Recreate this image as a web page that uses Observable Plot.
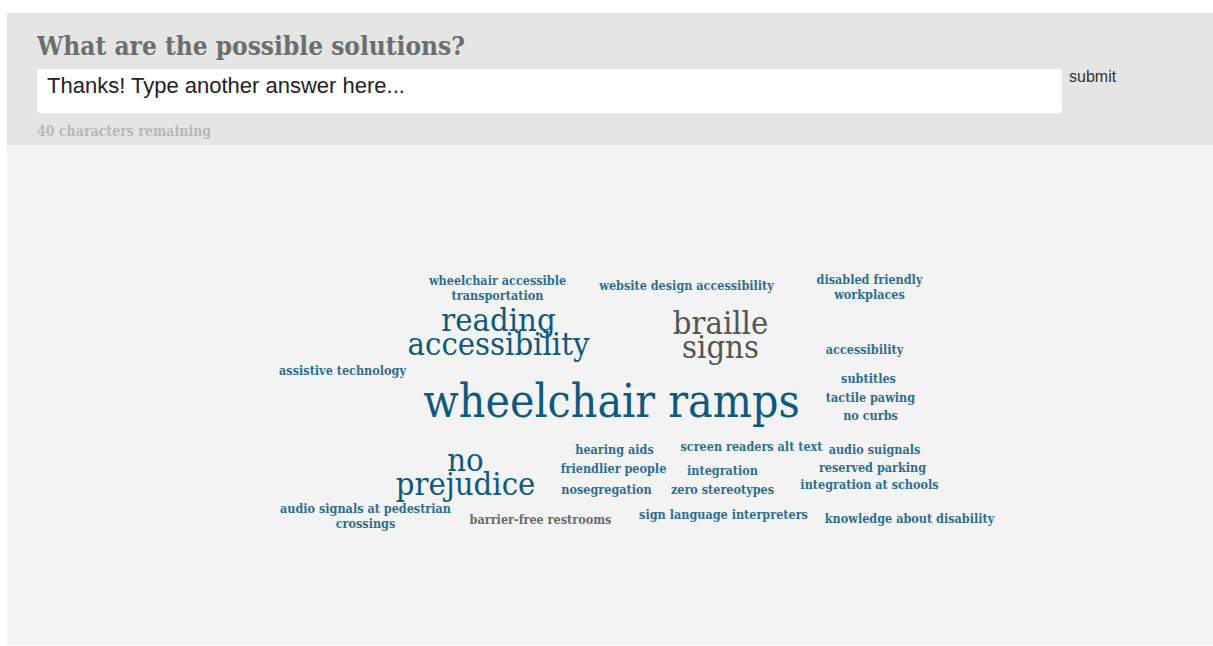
<!DOCTYPE html>
<html>
<head>
<meta charset="utf-8">
<script src="https://cdn.jsdelivr.net/npm/d3@7"></script>
<script src="https://cdn.jsdelivr.net/npm/@observablehq/plot@0.6"></script>
<style>
  html, body { margin: 0; padding: 0; background: #ffffff; width: 1213px; height: 646px; overflow: hidden; }
  .slab { font-family: "DejaVu Serif Condensed", "DejaVu Serif", serif; font-stretch: condensed; }
  #panel { position: absolute; left: 7px; top: 13px; width: 1206px; height: 132px; background: #e5e5e5; }
  #title { position: absolute; left: 30px; top: 18px; font-size: 26px; font-weight: bold; color: #6e6e6e; white-space: nowrap; }
  #input { position: absolute; left: 30px; top: 56px; width: 1025px; height: 44px; background: #ffffff; border-radius: 3px; box-sizing: border-box; padding: 4px 0 0 10px; font-family: "Liberation Sans", Arial, sans-serif; font-size: 22px; color: #222; }
  #submit { position: absolute; left: 1062px; top: 55px; font-family: "Liberation Sans", Arial, sans-serif; font-size: 16px; color: #333; }
  #remain { position: absolute; left: 30px; top: 110px; font-size: 14px; font-weight: bold; color: #b8b8b8; white-space: nowrap; }
  #cloud { position: absolute; left: 7px; top: 145px; width: 1206px; height: 500px; background: #f3f3f3; }
  #cloud svg { display: block; background: #f3f3f3; }
</style>
</head>
<body>
<div id="panel">
  <div id="title" class="slab">What are the possible solutions?</div>
  <div id="input">Thanks! Type another answer here...</div>
  <div id="submit">submit</div>
  <div id="remain" class="slab">40 characters remaining</div>
</div>
<div id="cloud"></div>
<script>
// Answers (word cloud terms), how often each was given, and a tone group
const words = [
  "wheelchair accessible\ntransportation",
  "website design accessibility",
  "disabled friendly\nworkplaces",
  "reading\naccessibility",
  "braille\nsigns",
  "accessibility",
  "assistive technology",
  "subtitles",
  "wheelchair ramps",
  "tactile pawing",
  "no curbs",
  "hearing aids",
  "screen readers alt text",
  "audio suignals",
  "no\nprejudice",
  "friendlier people",
  "integration",
  "reserved parking",
  "integration at schools",
  "nosegregation",
  "zero stereotypes",
  "audio signals at pedestrian\ncrossings",
  "barrier-free restrooms",
  "sign language interpreters",
  "knowledge about disability"
];
const counts = [1,1,1,3,3,1,1,1,5,1,1,1,1,1,3,1,1,1,1,1,1,1,1,1,1];
const tones  = ["blue","blue","blue","blue","gray","blue","blue","blue","blue","blue","blue","blue","blue","blue","blue","blue","blue","blue","blue","blue","blue","blue","gray","blue","blue"];
// Cloud layout (offsets from the cloud centre)
const layoutX = [-140, 49, 232, -139, 83, 227, -295, 231, -26, 233, 233, -23, 114, 237, -172, -24, 85, 235, 232, -31, 85, -272, -97, 86, 272];
const layoutY = [-113, -115, -114, -65, -62, -51, -30, -22, 6, -3, 15, 49, 46, 49, 75, 68, 70, 67, 84, 89, 89, 115, 119, 114, 118];

const table = words.map((w, i) => ({word: w, count: counts[i], tone: tones[i], x: layoutX[i], y: layoutY[i]}));
const size = d3.scaleLinear().domain([1, 3, 5]).range([12.5, 32.5, 46]);
const colorOf = d => d.tone === "gray" ? (d.count > 1 ? "#555555" : "#6a6a6a") : (d.count > 1 ? "#0e5a7e" : "#2f6e90");

const font = "DejaVu Serif Condensed, DejaVu Serif, serif";
const chart = Plot.plot({
  width: 1206,
  height: 500,
  margin: 0,
  x: {domain: [-630, 576], range: [0, 1206], axis: null},
  y: {domain: [-255, 245], range: [0, 500], axis: null},
  style: {background: "#f3f3f3"},
  marks: [
    Plot.text(table.filter(d => d.count === 1), {
      x: "x", y: "y", text: "word",
      fontSize: d => size(d.count), fill: colorOf, fontWeight: "bold",
      fontFamily: font, lineHeight: 1.2, lineAnchor: "middle", textAnchor: "middle"
    }),
    Plot.text(table.filter(d => d.count > 1), {
      x: "x", y: "y", text: "word",
      fontSize: d => size(d.count), fill: colorOf,
      fontFamily: font, lineHeight: 0.72, lineAnchor: "middle", textAnchor: "middle"
    })
  ]
});
chart.querySelectorAll("text").forEach(t => t.setAttribute("font-stretch", "condensed"));
document.getElementById("cloud").appendChild(chart);
</script>
</body>
</html>
